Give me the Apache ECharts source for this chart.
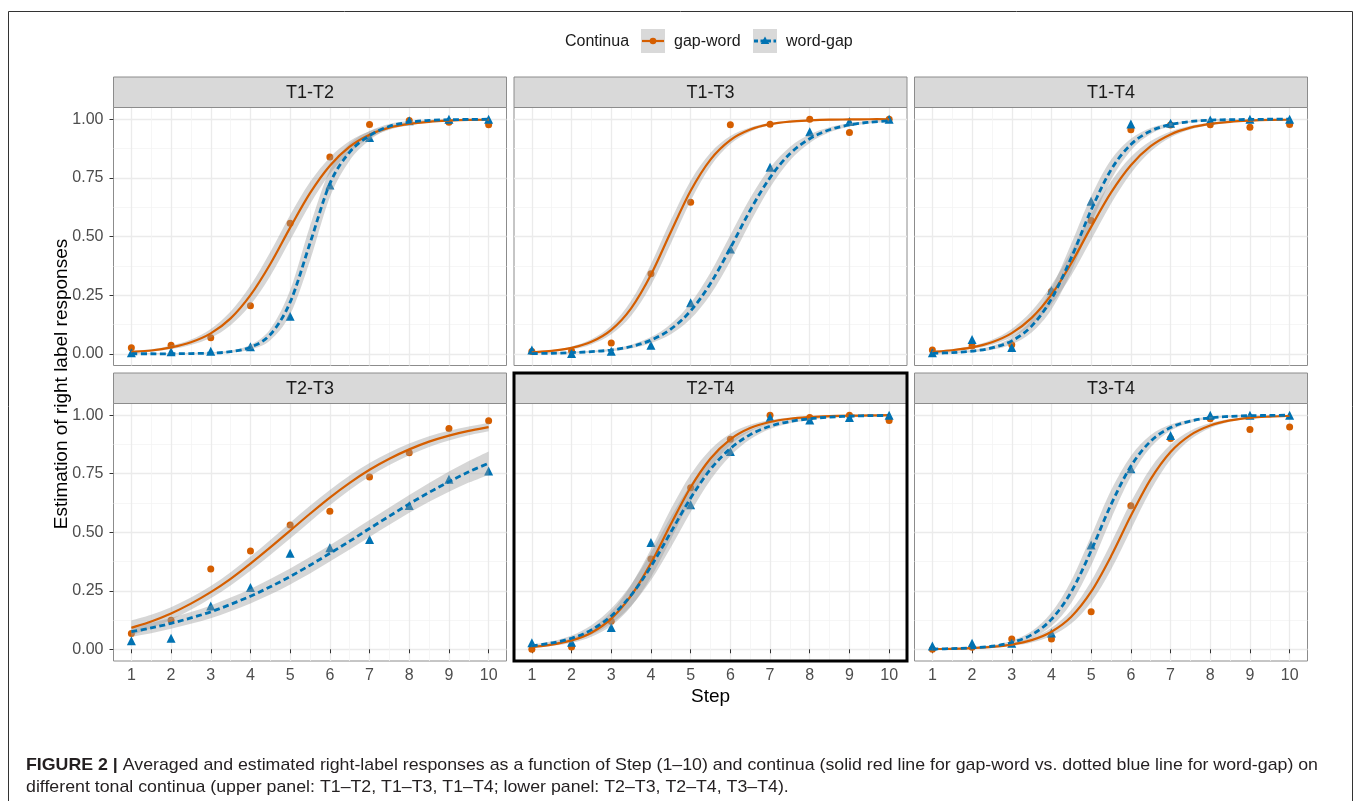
<!DOCTYPE html>
<html>
<head>
<meta charset="utf-8">
<script src="https://cdn.jsdelivr.net/npm/echarts@6/dist/echarts.min.js"></script>
<style>
html,body{margin:0;padding:0;background:#fff;}
#chart{width:1360px;height:801px;}
</style>
</head>
<body>
<div id="chart"></div>
<script>
// ---------------- DATA ----------------
const panelNames = ['T1-T2', 'T1-T3', 'T1-T4', 'T2-T3', 'T2-T4', 'T3-T4'];
const steps = [1, 2, 3, 4, 5, 6, 7, 8, 9, 10];
const fitSteps = [1, 1.5, 2, 2.5, 3, 3.5, 4, 4.5, 5, 5.5, 6, 6.5, 7, 7.5, 8, 8.5, 9, 9.5, 10];
const yTicks = [0, 0.25, 0.5, 0.75, 1];
const yMinorTicks = [0.125, 0.375, 0.625, 0.875];
const xMinorTicks = [1.5, 2.5, 3.5, 4.5, 5.5, 6.5, 7.5, 8.5, 9.5];

// observed means (points)
const T1T2_gw_pts = [0.026, 0.036, 0.068, 0.205, 0.556, 0.839, 0.977, 0.995, 0.987, 0.976];
const T1T2_wg_pts = [0.004, 0.009, 0.011, 0.030, 0.160, 0.720, 0.922, 0.994, 1.000, 1.000];
const T1T3_gw_pts = [0.010, 0.012, 0.046, 0.341, 0.646, 0.976, 0.979, 1.000, 0.943, 1.000];
const T1T3_wg_pts = [0.016, 0.001, 0.011, 0.036, 0.218, 0.447, 0.795, 0.947, 0.990, 1.000];
const T1T4_gw_pts = [0.016, 0.033, 0.038, 0.265, 0.568, 0.955, 0.975, 0.976, 0.966, 0.977];
const T1T4_wg_pts = [0.004, 0.061, 0.027, 0.270, 0.650, 0.980, 0.983, 0.997, 1.000, 1.000];
const T2T3_gw_pts = [0.068, 0.124, 0.343, 0.420, 0.531, 0.590, 0.736, 0.840, 0.943, 0.976];
const T2T3_wg_pts = [0.037, 0.047, 0.185, 0.264, 0.410, 0.434, 0.469, 0.614, 0.726, 0.762];
const T2T4_gw_pts = [0.000, 0.010, 0.120, 0.386, 0.690, 0.897, 1.000, 0.990, 1.000, 0.977];
const T2T4_wg_pts = [0.028, 0.030, 0.093, 0.456, 0.617, 0.845, 0.990, 0.980, 0.990, 1.000];
const T3T4_gw_pts = [0.000, 0.009, 0.044, 0.044, 0.160, 0.613, 0.900, 0.985, 0.939, 0.950];
const T3T4_wg_pts = [0.014, 0.026, 0.026, 0.070, 0.446, 0.771, 0.913, 1.000, 1.000, 1.000];

// fitted curves (read at half steps) and confidence half-widths
const T1T2_gw_fit = [0.008,0.014,0.027,0.049,0.087,0.151,0.250,0.383,0.538,0.685,0.802,0.883,0.934,0.964,0.980,0.989,0.994,0.997,0.998];
const T1T2_gw_ci  = [0.004,0.005,0.008,0.012,0.019,0.029,0.041,0.051,0.054,0.047,0.035,0.024,0.015,0.009,0.006,0.004,0.004,0.004,0.004];
const T1T2_wg_fit = [0.000,0.000,0.000,0.001,0.003,0.009,0.028,0.082,0.220,0.471,0.725,0.860,0.930,0.970,0.987,0.995,0.998,0.999,1.000];
const T1T2_wg_ci  = [0.003,0.003,0.003,0.003,0.004,0.005,0.010,0.024,0.052,0.074,0.058,0.036,0.020,0.010,0.005,0.003,0.003,0.003,0.003];
const T1T3_gw_fit = [0.006,0.012,0.025,0.051,0.102,0.194,0.337,0.519,0.695,0.828,0.911,0.956,0.979,0.990,0.995,0.998,0.999,1.000,1.000];
const T1T3_gw_ci  = [0.004,0.004,0.006,0.011,0.019,0.032,0.045,0.050,0.043,0.029,0.017,0.009,0.005,0.004,0.004,0.004,0.004,0.004,0.004];
const T1T3_wg_fit = [0.001,0.002,0.005,0.009,0.016,0.031,0.058,0.105,0.183,0.300,0.451,0.612,0.751,0.853,0.917,0.955,0.976,0.987,0.993];
const T1T3_wg_ci  = [0.004,0.004,0.004,0.004,0.005,0.008,0.013,0.022,0.034,0.047,0.055,0.052,0.042,0.029,0.018,0.011,0.007,0.005,0.004];
const T1T4_gw_fit = [0.008,0.015,0.027,0.049,0.088,0.153,0.252,0.386,0.541,0.687,0.804,0.885,0.935,0.964,0.980,0.989,0.994,0.997,0.998];
const T1T4_gw_ci  = [0.004,0.005,0.007,0.011,0.018,0.029,0.041,0.052,0.055,0.047,0.035,0.022,0.013,0.008,0.005,0.004,0.004,0.004,0.004];
const T1T4_wg_fit = [0.002,0.005,0.011,0.025,0.055,0.118,0.234,0.410,0.613,0.784,0.892,0.950,0.977,0.990,0.996,0.998,0.999,1.000,1.000];
const T1T4_wg_ci  = [0.004,0.004,0.005,0.008,0.014,0.027,0.045,0.060,0.059,0.043,0.025,0.013,0.007,0.004,0.004,0.004,0.004,0.004,0.004];
const T2T3_gw_fit = [0.092,0.119,0.153,0.195,0.244,0.301,0.366,0.435,0.507,0.579,0.648,0.711,0.767,0.814,0.854,0.887,0.913,0.933,0.949];
const T2T3_gw_ci  = [0.032,0.029,0.027,0.026,0.026,0.028,0.030,0.032,0.034,0.034,0.033,0.031,0.029,0.027,0.025,0.023,0.021,0.019,0.018];
const T2T3_wg_fit = [0.075,0.091,0.111,0.134,0.160,0.192,0.227,0.267,0.311,0.359,0.410,0.462,0.516,0.569,0.621,0.670,0.716,0.758,0.795];
const T2T3_wg_ci  = [0.021,0.022,0.023,0.025,0.027,0.029,0.031,0.033,0.034,0.035,0.035,0.036,0.036,0.037,0.038,0.040,0.043,0.046,0.050];
const T2T4_gw_fit = [0.010,0.020,0.038,0.071,0.131,0.229,0.368,0.534,0.692,0.815,0.897,0.945,0.971,0.985,0.992,0.996,0.998,0.999,1.000];
const T2T4_gw_ci  = [0.004,0.006,0.010,0.017,0.030,0.046,0.060,0.065,0.055,0.039,0.024,0.014,0.008,0.005,0.004,0.004,0.004,0.004,0.004];
const T2T4_wg_fit = [0.015,0.027,0.047,0.083,0.142,0.231,0.354,0.500,0.646,0.769,0.858,0.917,0.953,0.973,0.985,0.992,0.996,0.998,0.999];
const T2T4_wg_ci  = [0.005,0.007,0.012,0.020,0.032,0.046,0.059,0.065,0.059,0.046,0.032,0.020,0.012,0.007,0.005,0.004,0.004,0.004,0.004];
const T3T4_gw_fit = [0.001,0.002,0.005,0.010,0.020,0.039,0.075,0.139,0.246,0.397,0.570,0.727,0.843,0.915,0.956,0.978,0.989,0.994,0.997];
const T3T4_gw_ci  = [0.004,0.004,0.004,0.004,0.006,0.010,0.017,0.029,0.045,0.057,0.059,0.048,0.032,0.019,0.011,0.006,0.004,0.004,0.004];
const T3T4_wg_fit = [0.001,0.003,0.006,0.013,0.029,0.062,0.128,0.246,0.421,0.618,0.782,0.889,0.947,0.975,0.989,0.995,0.998,0.999,1.000];
const T3T4_wg_ci  = [0.004,0.004,0.004,0.005,0.008,0.015,0.029,0.048,0.063,0.061,0.044,0.026,0.013,0.007,0.004,0.004,0.004,0.004,0.004];

// ---------------- STYLE / LAYOUT ----------------
const FONT = '"Liberation Sans", Arial, Helvetica, sans-serif';
const ORANGE = '#D55E00';
const BLUE = '#0072B2';
const BAND = 'rgba(153,153,153,0.4)';
const colLeft = [113.5, 514, 914.5];
const panelW = 393;
const rowTop = [107.5, 403.5];
const rowH = [258, 257.5];
const stripH = 30.5;
const highlightPanel = 4;

const panels = [
  {gwPts: T1T2_gw_pts, wgPts: T1T2_wg_pts, gwFit: T1T2_gw_fit, gwCi: T1T2_gw_ci, wgFit: T1T2_wg_fit, wgCi: T1T2_wg_ci},
  {gwPts: T1T3_gw_pts, wgPts: T1T3_wg_pts, gwFit: T1T3_gw_fit, gwCi: T1T3_gw_ci, wgFit: T1T3_wg_fit, wgCi: T1T3_wg_ci},
  {gwPts: T1T4_gw_pts, wgPts: T1T4_wg_pts, gwFit: T1T4_gw_fit, gwCi: T1T4_gw_ci, wgFit: T1T4_wg_fit, wgCi: T1T4_wg_ci},
  {gwPts: T2T3_gw_pts, wgPts: T2T3_wg_pts, gwFit: T2T3_gw_fit, gwCi: T2T3_gw_ci, wgFit: T2T3_wg_fit, wgCi: T2T3_wg_ci},
  {gwPts: T2T4_gw_pts, wgPts: T2T4_wg_pts, gwFit: T2T4_gw_fit, gwCi: T2T4_gw_ci, wgFit: T2T4_wg_fit, wgCi: T2T4_wg_ci},
  {gwPts: T3T4_gw_pts, wgPts: T3T4_wg_pts, gwFit: T3T4_gw_fit, gwCi: T3T4_gw_ci, wgFit: T3T4_wg_fit, wgCi: T3T4_wg_ci}
];

// smooth path through pixel points (Catmull-Rom as cubic Bezier)
function curvePath(pts, cmd) {
  let d = cmd + pts[0][0].toFixed(2) + ' ' + pts[0][1].toFixed(2);
  for (let k = 0; k < pts.length - 1; k++) {
    const p0 = pts[k - 1] || pts[k], p1 = pts[k], p2 = pts[k + 1], p3 = pts[k + 2] || pts[k + 1];
    const c1x = p1[0] + (p2[0] - p0[0]) / 6, c1y = p1[1] + (p2[1] - p0[1]) / 6;
    const c2x = p2[0] - (p3[0] - p1[0]) / 6, c2y = p2[1] - (p3[1] - p1[1]) / 6;
    d += ' C' + c1x.toFixed(2) + ' ' + c1y.toFixed(2) + ' ' + c2x.toFixed(2) + ' ' + c2y.toFixed(2) + ' ' + p2[0].toFixed(2) + ' ' + p2[1].toFixed(2);
  }
  return d;
}

const grids = [], xAxes = [], yAxes = [], series = [], graphics = [];

panels.forEach((p, i) => {
  const col = i % 3, row = Math.floor(i / 3);
  grids.push({
    left: colLeft[col], top: rowTop[row], width: panelW, height: rowH[row],
    show: true, backgroundColor: '#fff', borderColor: '#8C8C8C', borderWidth: 1
  });
  const isBottom = row === 1, isLeft = col === 0;
  xAxes.push({
    type: 'value', gridIndex: i, min: 0.55, max: 10.45,
    axisLine: {show: false},
    axisTick: {show: isBottom, customValues: steps, length: 4, lineStyle: {color: '#333', width: 1}},
    axisLabel: {show: isBottom, customValues: steps, margin: 7, color: '#4D4D4D', fontSize: 16, fontFamily: FONT},
    splitLine: {show: true, lineStyle: {color: '#EBEBEB', width: 1.3}}
  });
  xAxes.push({
    type: 'value', gridIndex: i, min: 0.55, max: 10.45,
    axisLine: {show: false},
    axisTick: {show: false, customValues: xMinorTicks},
    axisLabel: {show: false, customValues: xMinorTicks},
    splitLine: {show: true, lineStyle: {color: '#F4F4F4', width: 0.8}}
  });
  yAxes.push({
    type: 'value', gridIndex: i, min: -0.05, max: 1.05,
    axisLine: {show: false},
    axisTick: {show: isLeft, customValues: yTicks, length: 4, lineStyle: {color: '#333', width: 1}},
    axisLabel: {show: isLeft, customValues: yTicks, margin: 10, color: '#4D4D4D', fontSize: 16, fontFamily: FONT,
      formatter: v => Number(v).toFixed(2)},
    splitLine: {show: true, lineStyle: {color: '#EBEBEB', width: 1.3}}
  });
  yAxes.push({
    type: 'value', gridIndex: i, min: -0.05, max: 1.05,
    axisLine: {show: false},
    axisTick: {show: false, customValues: yMinorTicks},
    axisLabel: {show: false, customValues: yMinorTicks},
    splitLine: {show: true, lineStyle: {color: '#F4F4F4', width: 0.8}}
  });
  const xi = 2 * i, yi = 2 * i;
  // points
  series.push({
    type: 'scatter', name: 'gap-word', xAxisIndex: xi, yAxisIndex: yi, z: 2,
    symbol: 'circle', symbolSize: 7, itemStyle: {color: ORANGE, opacity: 1},
    data: steps.map((s, j) => [s, p.gwPts[j]]), silent: true
  });
  series.push({
    type: 'scatter', name: 'word-gap', xAxisIndex: xi, yAxisIndex: yi, z: 2,
    symbol: 'triangle', symbolSize: 9, itemStyle: {color: BLUE, opacity: 1},
    data: steps.map((s, j) => [s, p.wgPts[j]]), silent: true
  });
  // confidence bands
  const addBand = (fit, ci) => {
    const lo = fit.map((v, j) => Math.max(0, v - ci[j]));
    const hi = fit.map((v, j) => Math.min(1, v + ci[j]));
    series.push({
      type: 'custom', xAxisIndex: xi, yAxisIndex: yi, z: 3, silent: true, clip: true,
      encode: {x: 0, y: [1, 2]},
      data: fitSteps.map((s, j) => [s, lo[j], hi[j]]),
      renderItem: (params, api) => {
        if (params.dataIndex !== 0) return null;
        const up = fitSteps.map((s, j) => api.coord([s, hi[j]]));
        const dn = fitSteps.map((s, j) => api.coord([s, lo[j]])).reverse();
        return {type: 'path', shape: {pathData: curvePath(up, 'M') + ' ' + curvePath(dn, 'L') + ' Z'},
          style: {fill: BAND, stroke: null}};
      }
    });
  };
  addBand(p.gwFit, p.gwCi);
  addBand(p.wgFit, p.wgCi);
  // fitted lines
  const addFit = (fit, name, color, width, dash) => {
    series.push({
      type: 'custom', name: name, xAxisIndex: xi, yAxisIndex: yi, z: 4, silent: true, clip: true,
      encode: {x: 0, y: 1},
      data: fitSteps.map((s, j) => [s, fit[j]]),
      renderItem: (params, api) => {
        if (params.dataIndex !== 0) return null;
        const pts = fitSteps.map((s, j) => api.coord([s, fit[j]]));
        return {type: 'path', shape: {pathData: curvePath(pts, 'M')},
          style: {fill: null, stroke: color, lineWidth: width, lineDash: dash, lineCap: 'butt', lineJoin: 'round'}};
      }
    });
  };
  addFit(p.gwFit, 'gap-word', ORANGE, 2.2, null);
  addFit(p.wgFit, 'word-gap', BLUE, 2.8, [6, 3.5]);

  // strip
  const sx = colLeft[col], sy = rowTop[row] - stripH;
  graphics.push({
    type: 'rect', z: 10, silent: true,
    shape: {x: sx, y: sy, width: panelW, height: stripH},
    style: {fill: '#D9D9D9', stroke: '#8C8C8C', lineWidth: 1}
  });
  graphics.push({
    type: 'text', z: 11, silent: true, x: sx + panelW / 2, y: sy + stripH / 2 + 1,
    style: {text: panelNames[i], fill: '#1A1A1A', fontSize: 18, fontFamily: FONT, align: 'center', verticalAlign: 'middle'}
  });
  if (i === highlightPanel) {
    graphics.push({
      type: 'rect', z: 12, silent: true,
      shape: {x: sx, y: sy, width: panelW, height: stripH + rowH[row]},
      style: {fill: 'none', stroke: '#000', lineWidth: 3}
    });
  }
});

// legend
graphics.push({type: 'text', z: 11, silent: true, x: 565, y: 42,
  style: {text: 'Continua', fill: '#1A1A1A', fontSize: 16, fontFamily: FONT, verticalAlign: 'middle'}});
[[641, 'gap-word', ORANGE, 'circle', 674], [753, 'word-gap', BLUE, 'triangle', 786]].forEach(([kx, label, color, shape, tx]) => {
  graphics.push({type: 'rect', z: 10, silent: true, shape: {x: kx, y: 29, width: 24, height: 24},
    style: {fill: '#D9D9D9', stroke: 'none'}});
  graphics.push({type: 'line', z: 11, silent: true, shape: {x1: kx + 1, y1: 41, x2: kx + 23, y2: 41},
    style: {stroke: color, lineWidth: shape === 'circle' ? 2.2 : 2.8, lineDash: shape === 'circle' ? null : [4, 2.5]}});
  if (shape === 'circle') {
    graphics.push({type: 'circle', z: 12, silent: true, shape: {cx: kx + 12, cy: 41, r: 3.3}, style: {fill: color}});
  } else {
    graphics.push({type: 'polygon', z: 12, silent: true,
      shape: {points: [[kx + 12, 36.5], [kx + 16.3, 44], [kx + 7.7, 44]]}, style: {fill: color}});
  }
  graphics.push({type: 'text', z: 11, silent: true, x: tx, y: 42,
    style: {text: label, fill: '#1A1A1A', fontSize: 16, fontFamily: FONT, verticalAlign: 'middle'}});
});

// axis titles
graphics.push({type: 'text', z: 11, silent: true, x: 710.5, y: 697,
  style: {text: 'Step', fill: '#000', fontSize: 19, fontFamily: FONT, align: 'center', verticalAlign: 'middle'}});
graphics.push({type: 'text', z: 11, silent: true, x: 62, y: 384, rotation: Math.PI / 2,
  style: {text: 'Estimation of right label responses', fill: '#000', fontSize: 19, fontFamily: FONT, align: 'center', verticalAlign: 'middle'}});

// outer frame
graphics.push({type: 'rect', z: 1, silent: true, shape: {x: 8.5, y: 11.5, width: 1344, height: 800},
  style: {fill: 'none', stroke: '#333', lineWidth: 1}});

// caption
const cap1b = 'FIGURE 2 |';
const cap1r = ' Averaged and estimated right-label responses as a function of Step (1\u201310) and continua (solid red line for gap-word vs. dotted blue line for word-gap) on';
const cap2 = 'different tonal continua (upper panel: T1\u2013T2, T1\u2013T3, T1\u2013T4; lower panel: T2\u2013T3, T2\u2013T4, T3\u2013T4).';
const CAPSIZE = 17;
const mctx = document.createElement('canvas').getContext('2d');
mctx.font = 'bold ' + CAPSIZE + 'px ' + FONT;
const wB = mctx.measureText(cap1b).width;
mctx.font = CAPSIZE + 'px ' + FONT;
const wR = mctx.measureText(cap1r).width;
const capScale = 1292 / (wB + wR);
graphics.push({type: 'text', z: 11, silent: true, x: 26, y: 765, scaleX: capScale,
  style: {text: '{b|' + cap1b + '}' + cap1r, fill: '#231F20', fontSize: CAPSIZE, fontFamily: FONT, verticalAlign: 'middle',
    rich: {b: {fontWeight: 'bold', fontSize: CAPSIZE, fontFamily: FONT, fill: '#231F20'}}}});
graphics.push({type: 'text', z: 11, silent: true, x: 26, y: 787, scaleX: capScale,
  style: {text: cap2, fill: '#231F20', fontSize: CAPSIZE, fontFamily: FONT, verticalAlign: 'middle'}});

const chart = echarts.init(document.getElementById('chart'), null, {renderer: 'canvas'});
chart.setOption({
  backgroundColor: '#fff',
  animation: false,
  grid: grids,
  xAxis: xAxes,
  yAxis: yAxes,
  series: series,
  graphic: graphics
});
</script>
</body>
</html>
